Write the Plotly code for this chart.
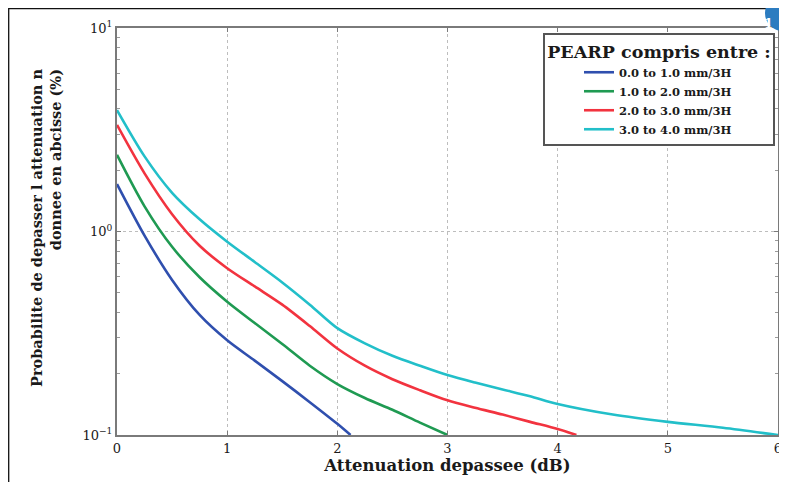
import plotly.graph_objects as go

# ---------------- data ----------------
series_names = ["0.0 to 1.0 mm/3H", "1.0 to 2.0 mm/3H", "2.0 to 3.0 mm/3H", "3.0 to 4.0 mm/3H"]

blue_x = [0, 0.25, 0.5, 0.75, 1.0, 1.25, 1.5, 1.75, 2.0, 2.12]
blue_y = [1.71, 0.955, 0.578, 0.389, 0.292, 0.232, 0.184, 0.145, 0.1135, 0.1]

green_x = [0, 0.25, 0.5, 0.75, 1.0, 1.25, 1.5, 1.75, 2.0, 2.25, 2.5, 2.75, 3.0]
green_y = [2.38, 1.33, 0.841, 0.596, 0.452, 0.355, 0.28, 0.219, 0.178, 0.152, 0.133, 0.115, 0.1]

red_x = [0, 0.25, 0.5, 0.75, 1.0, 1.25, 1.5, 1.75, 2.0, 2.25, 2.5, 2.75, 3.0, 3.25, 3.5, 3.75, 4.0, 4.17]
red_y = [3.34, 1.93, 1.216, 0.851, 0.66, 0.537, 0.437, 0.343, 0.266, 0.219, 0.188, 0.166, 0.148, 0.136, 0.126, 0.116, 0.107, 0.1]

cyan_x = [0, 0.25, 0.5, 0.75, 1.0, 1.25, 1.5, 1.75, 2.0, 2.25, 2.5, 2.75, 3.0, 3.25, 3.5, 3.75, 4.0, 4.5, 5.0, 5.5, 6.0]
cyan_y = [3.95, 2.34, 1.55, 1.148, 0.891, 0.708, 0.562, 0.437, 0.335, 0.282, 0.245, 0.219, 0.197, 0.181, 0.1675, 0.155, 0.142, 0.126, 0.116, 0.1086, 0.1]

x_tickvals = [0, 1, 2, 3, 4, 5, 6]
y_tickvals = [0.1, 1, 10]
y_ticktext = ["10<sup>−1</sup>", "10<sup>0</sup>", "10<sup>1</sup>"]
y_minor_tickvals = [0.2, 0.3, 0.4, 0.5, 0.6, 0.7, 0.8, 0.9, 2, 3, 4, 5, 6, 7, 8, 9]

colors = ["#2f4fae", "#1f9a52", "#f2333f", "#22bfc9"]

SERIF = "DejaVu Serif, Liberation Serif, serif"
TXT = "#1a1a1a"

# the page body adds an 8px margin, so the figure is sized to fit inside it
W, H = 771, 474
ML, MT, MR, MB = 109, 20, 1, 47
PW, PH = W - ML - MR, H - MT - MB   # plot area in px

fig = go.Figure()
for name, xs, ys, c in zip(series_names,
                           [blue_x, green_x, red_x, cyan_x],
                           [blue_y, green_y, red_y, cyan_y],
                           colors):
    fig.add_trace(go.Scatter(x=xs, y=ys, mode="lines", name="<b>" + name + "</b>",
                             line=dict(color=c, width=2.6, shape="spline", smoothing=0.8)))

fig.update_layout(
    width=W, height=H,
    margin=dict(l=ML, r=MR, t=MT, b=MB, autoexpand=False),
    paper_bgcolor="white", plot_bgcolor="white",
    font=dict(family=SERIF, color=TXT, size=12),
    showlegend=True,
    legend=dict(
        x=1 - 3 / PW, y=1 - 5 / PH, xanchor="right", yanchor="top",
        bgcolor="white", bordercolor="#555555", borderwidth=2,
        font=dict(family=SERIF, size=11.5, color=TXT),
        title=dict(text="<b>PEARP compris entre :</b>", side="top center",
                   font=dict(family=SERIF, size=17.5, color=TXT)),
        indentation=34, itemwidth=30, tracegroupgap=0,
    ),
)

fig.update_xaxes(
    range=[0, 6], tickvals=x_tickvals, automargin=False, ticklabeloverflow="allow",
    showline=True, linecolor="#7a7a7a", linewidth=2, mirror="ticks",
    ticks="inside", ticklen=4, tickcolor="#7a7a7a",
    showgrid=True, gridcolor="#bdbdbd", griddash="dot", gridwidth=1,
    zeroline=False,
    tickfont=dict(family=SERIF, size=13, color=TXT),
    title=dict(text="<b>Attenuation depassee (dB)</b>", standoff=2,
               font=dict(family=SERIF, size=16.5, color=TXT)),
)
fig.update_yaxes(
    type="log", range=[-1, 1], tickvals=y_tickvals, ticktext=y_ticktext, automargin=False,
    showline=True, linecolor="#7a7a7a", linewidth=2, mirror="ticks",
    ticks="inside", ticklen=4, tickcolor="#7a7a7a",
    minor=dict(tickmode="array", tickvals=y_minor_tickvals, ticks="inside",
               ticklen=3, tickcolor="#9a9a9a", showgrid=False),
    showgrid=True, gridcolor="#bdbdbd", griddash="dot", gridwidth=1,
    zeroline=False,
    tickfont=dict(family=SERIF, size=13, color=TXT),
)

# y-axis title (two lines, rotated)
fig.add_annotation(
    text="<b>Probabilite de depasser l attenuation n</b><br><b>donnee en abcisse (%)</b>",
    xref="paper", yref="paper", x=-71 / PW, y=(PH - 200) / PH,
    xanchor="center", yanchor="middle", textangle=-90, showarrow=False,
    align="right", font=dict(family=SERIF, size=14.5, color=TXT),
)

# outer frame of the figure
fig.add_shape(type="rect", xref="paper", yref="paper",
              x0=(0.7 - ML) / PW, x1=1.05, y0=-0.25, y1=(PH + MT - 0.7) / PH,
              line=dict(color="#111111", width=1.3), layer="above")
# page-corner badge
fig.add_shape(type="circle", xref="paper", yref="paper",
              xsizemode="pixel", ysizemode="pixel", xanchor=1, yanchor=1,
              x0=-13, x1=23, y0=-3, y1=33,
              fillcolor="#2c7cc0", line=dict(color="#2c7cc0", width=0), layer="above")
fig.add_annotation(text="<b>1</b>", xref="paper", yref="paper",
                   x=1 - 3 / PW, y=1 + 14 / PH, showarrow=False,
                   font=dict(family=SERIF, size=13, color="white"))

fig.write_html("out.html")
